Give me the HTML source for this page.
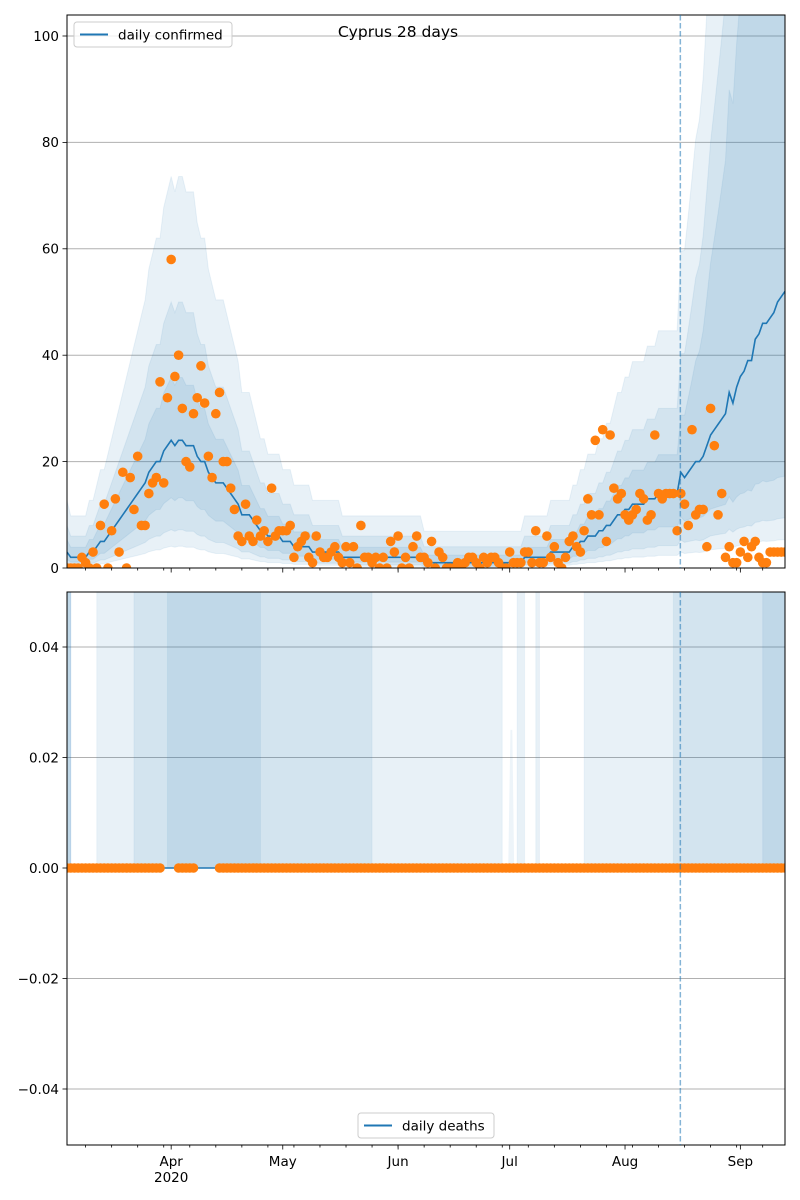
<!DOCTYPE html>
<html><head><meta charset="utf-8"><style>
body{margin:0;background:#fff;}
svg{display:block;font-family:"DejaVu Sans","Liberation Sans",sans-serif;}
</style></head><body>
<svg id="chart" width="800" height="1200" viewBox="0 0 800 1200" xmlns="http://www.w3.org/2000/svg">
<defs>
<clipPath id="clipTop"><rect x="67" y="15" width="718" height="553"/></clipPath>
<clipPath id="clipBot"><rect x="67" y="592" width="718" height="553"/></clipPath>
</defs>
<rect width="800" height="1200" fill="#fff"/>
<g id="topPanel"></g>
<g id="botPanel"></g>
<text x="398" y="37" font-size="15.5" text-anchor="middle">Cyprus 28 days</text>
</svg>
<script>
const confirmed = [0,0,0,0,2,1,0,3,0,8,
12,0,7,13,3,18,0,17,11,21,
8,8,14,16,17,35,16,32,58,36,
40,30,20,19,29,32,38,31,21,17,
29,33,20,20,15,11,6,5,12,6,
5,9,6,7,5,15,6,7,7,7,
8,2,4,5,6,2,1,6,3,2,
2,3,4,2,1,4,1,4,0,8,
2,2,1,2,0,2,0,5,3,6,
0,2,0,4,6,2,2,1,5,0,
3,2,0,0,0,1,0,1,2,2,
1,0,2,1,2,2,1,0,0,3,
1,1,1,3,3,1,7,1,1,6,
2,4,1,0,2,5,6,4,3,7,
13,10,24,10,26,5,25,15,13,14,
10,9,10,11,14,13,9,10,25,14,
13,14,14,14,7,14,12,8,26,10,
11,11,4,30,23,10,14,2,4,1,
1,3,5,2,4,5,2,1,1,3,
3,3,3,3];
const confirmedMedian = [3,2,2,2,2,2,3,3,4,5,
5,6,7,8,9,10,11,12,13,14,
15,16,18,19,20,20,22,23,24,23,
24,24,23,23,23,21,20,20,18,17,
16,16,16,15,14,13,12,10,10,10,
9,8,7,7,6,6,6,6,5,5,
5,4,4,4,4,4,3,3,3,3,
3,3,3,3,2,2,2,2,2,2,
2,2,2,2,2,2,2,2,2,2,
2,2,2,2,2,2,1,1,1,1,
1,1,1,1,1,1,1,1,1,1,
1,1,1,1,1,1,1,1,1,1,
1,1,1,2,2,2,2,2,2,2,
3,3,3,3,3,3,4,4,5,5,
6,6,6,7,7,8,8,9,10,10,
11,11,12,12,12,12,13,13,13,14,
14,14,14,14,14,18,17,18,19,20,
20,21,23,25,26,27,28,29,33,31,
34,36,37,39,39,43,44,46,46,47,
48,50,51,52];
const deaths = [];
for (let i = 0; i < confirmed.length; i++) deaths.push((i>=26&&i<=29)||(i>=35&&i<=40) ? null : 0);
const deathsMedian = confirmed.map(() => 0);
const deathOuterSpans = [[0,1],[8,117],[121,123],[126,127],[139,193]];
const deathMidSpans = [[0,1],[18,82],[163,193]];
const deathInnerSpans = [[0,1],[27,52],[187,193]];
const topTicks = [0,20,40,60,80,100];
const botTicks = [-0.04,-0.02,0.00,0.02,0.04];
const botTickLabels = ["\u22120.04","\u22120.02","0.00","0.02","0.04"];
const monthDays = [28,58,89,119,150,181];
const monthLabels = ["Apr","May","Jun","Jul","Aug","Sep"];
const forecastDay = 165;

const NS="http://www.w3.org/2000/svg";
const X0=67, X1=785, NDAYS=193;
const xs = d => X0 + d*(X1-X0)/NDAYS;
const yT = v => 568 - v*(568-36)/100;
const yB = v => 868 - v*(868-647)/0.04;
function mk(tag, attrs, parent){const e=document.createElementNS(NS,tag);for(const k in attrs)e.setAttribute(k,attrs[k]);parent.appendChild(e);return e;}
const topG=document.getElementById('topPanel'), botG=document.getElementById('botPanel');
const svgRoot=document.getElementById('chart');

topTicks.forEach(t=>{
  const g=mk('line',{x1:X0,x2:X1,y1:yT(t),y2:yT(t),stroke:'#b0b0b0','stroke-width':1},topG);
  
  
});
botTicks.forEach(t=>{
  const g=mk('line',{x1:X0,x2:X1,y1:yB(t),y2:yB(t),stroke:'#b0b0b0','stroke-width':1},botG);
  
  
});

const bandDefs=[[2.9,4,0.17],[2.0,2,0.3],[1.45,1,0.55]];
const gb=mk('g',{'clip-path':'url(#clipTop)'},topG);
bandDefs.forEach((bd,bi)=>{
  let up=[],lo=[];
  confirmedMedian.forEach((m,i)=>{
    const s=1+Math.max(0,i-forecastDay+1)*0.06;
    up.push(xs(i)+','+yT(m*bd[0]*s+bd[1]*s));
    lo.push(xs(i)+','+yT(m*bd[2]/Math.sqrt(s)));
  });
  const p=mk('polygon',{points:up.concat(lo.reverse()).join(' '),fill:'#1f77b4','fill-opacity':0.1,stroke:'#1f77b4','stroke-opacity':0.08},gb);
  
  
});
const ml=mk('polyline',{points:confirmedMedian.map((m,i)=>xs(i)+','+yT(m)).join(' '),fill:'none',stroke:'#1f77b4','stroke-width':1.6},gb);


confirmed.forEach((v,i)=>{
  const c=mk('circle',{cx:xs(i),cy:yT(v),r:4.8,fill:'#ff7f0e'},gb);
  
  
});

const gb2=mk('g',{'clip-path':'url(#clipBot)'},botG);
[deathOuterSpans,deathMidSpans,deathInnerSpans].forEach((spans,bi)=>{
  spans.forEach(s=>{
    const r=mk('rect',{x:xs(s[0]),y:592,width:Math.max(2,xs(s[1])-xs(s[0])),height:276,fill:'#1f77b4','fill-opacity':0.1,stroke:'#1f77b4','stroke-opacity':0.06},gb2);
    
    
  });
});
const spk=mk('polygon',{points:`${xs(118.6)},868 ${xs(119.2)},${yB(0.025)} ${xs(119.7)},${yB(0.025)} ${xs(120.2)},868`,fill:'#1f77b4','fill-opacity':0.08},gb2);


const dl=mk('polyline',{points:deathsMedian.map((m,i)=>xs(i)+','+yB(m)).join(' '),fill:'none',stroke:'#1f77b4','stroke-width':1.6},gb2);


deaths.forEach((v,i)=>{
  if(v===null)return;
  const c=mk('circle',{cx:xs(i),cy:yB(v),r:4.8,fill:'#ff7f0e'},gb2);
  
  
});

[[15,568],[592,1145]].forEach(([a,b])=>{
  const l=mk('line',{x1:xs(forecastDay)-0.5,x2:xs(forecastDay)-0.5,y1:a,y2:b,stroke:'#1f77b4','stroke-opacity':0.55,'stroke-width':1.5,'stroke-dasharray':'5.5,2.5'},svgRoot);
  
  
});

[[topG,15,568],[botG,592,1145]].forEach(([g,a,b])=>{
  const f=mk('rect',{x:X0,y:a,width:X1-X0,height:b-a,fill:'none',stroke:'#000','stroke-width':1},g);
  
  
  for(let d=5; d<=NDAYS; d+=7){
    const t=mk('line',{x1:xs(d),x2:xs(d),y1:b,y2:b+2.5,stroke:'#000','stroke-width':0.8},g);
    
    
  }
  monthDays.forEach(d=>{
    const t=mk('line',{x1:xs(d),x2:xs(d),y1:b,y2:b+4.5,stroke:'#000','stroke-width':0.8},g);
    
    
  });
});
topTicks.forEach(t=>{
  const k=mk('line',{x1:X0-4.5,x2:X0,y1:yT(t),y2:yT(t),stroke:'#000','stroke-width':0.8},topG);
  
  
  const tx=mk('text',{x:X0-8,y:yT(t)+4.8,'font-size':13.5,'text-anchor':'end'},topG);
  tx.textContent=t;
  
  
});
botTicks.forEach((t,i)=>{
  const k=mk('line',{x1:X0-4.5,x2:X0,y1:yB(t),y2:yB(t),stroke:'#000','stroke-width':0.8},botG);
  
  
  const tx=mk('text',{x:X0-8,y:yB(t)+4.8,'font-size':13.5,'text-anchor':'end'},botG);
  tx.textContent=botTickLabels[i];
  
  
});
monthDays.forEach((d,i)=>{
  const tx=mk('text',{x:xs(d),y:1166,'font-size':13.5,'text-anchor':'middle'},botG);
  tx.textContent=monthLabels[i];
  
  
});
const yr=mk('text',{x:xs(28),y:1182,'font-size':13.5,'text-anchor':'middle'},botG);
yr.textContent='2020';



function legend(g,bx,by,w,label,name){
  const lg=mk('g',{},g);
  
  
  mk('rect',{x:bx,y:by,width:w,height:25,rx:3,fill:'#fff','fill-opacity':0.8,stroke:'#ccc'},lg);
  mk('line',{x1:bx+6,x2:bx+34,y1:by+12.5,y2:by+12.5,stroke:'#1f77b4','stroke-width':2},lg);
  const t=mk('text',{x:bx+44,y:by+17.5,'font-size':13.5},lg);
  t.textContent=label;
}
legend(topG,74,22,158,'daily confirmed','legend-confirmed');
legend(botG,358,1113,136,'daily deaths','legend-deaths');
</script>
</body></html>
